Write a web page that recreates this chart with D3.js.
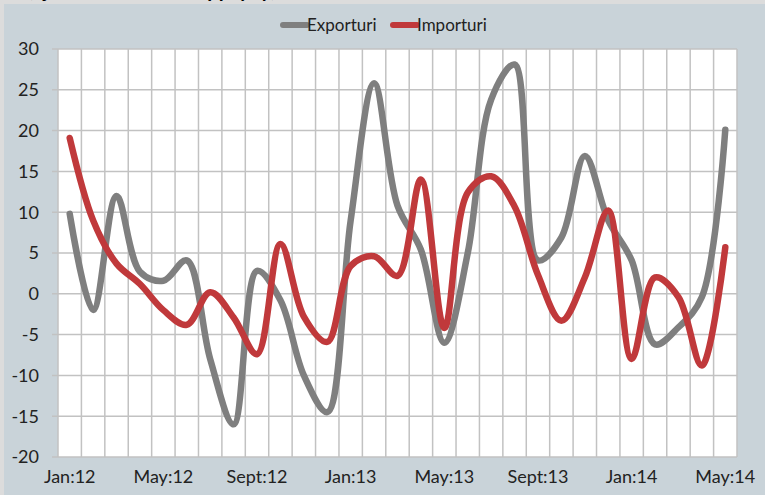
<!DOCTYPE html>
<html>
<head>
<meta charset="utf-8">
<script src="https://cdn.jsdelivr.net/npm/d3@7"></script>
<style>
  html, body { margin: 0; padding: 0; background: #dcdcdc; }
  text { font-family: Lato, "Open Sans", sans-serif; fill: #222; }
</style>
</head>
<body>
<div id="content"></div>
<script>
var width = 765, height = 495

// months Jan:12 .. May:14
var months = ['Jan:12','Feb:12','Mar:12','Apr:12','May:12','Jun:12','Jul:12','Aug:12','Sept:12','Oct:12','Nov:12','Dec:12',
  'Jan:13','Feb:13','Mar:13','Apr:13','May:13','Jun:13','Jul:13','Aug:13','Sept:13','Oct:13','Nov:13','Dec:13',
  'Jan:14','Feb:14','Mar:14','Apr:14','May:14']
var tickLabels = ['Jan:12','May:12','Sept:12','Jan:13','May:13','Sept:13','Jan:14','May:14']
var yTicks = [-20, -15, -10, -5, 0, 5, 10, 15, 20, 25, 30]

var exporturi = [9.8, -2.0, 12.0, 2.7, 1.6, 4.1, -8.0, -16.0, 2.8, -0.8,
  -10.0, -14.5, 9.0, 25.8, 10.8, 5.4, -6.0, 5.0, 23.8, 28.1,
  4.1, 6.9, 16.9, 9.0, 4.1, -6.2, -4.1, -0.4, 20.1]
var importuri = [19.1, 9.0, 3.7, 1.2, -2.0, -3.8, 0.2, -2.9, -7.4, 6.1,
  -2.8, -5.9, 3.4, 4.6, 2.2, 14.0, -4.2, 12.4, 14.4, 10.7,
  2.3, -3.3, 2.0, 10.2, -8.0, 2.0, -0.4, -8.8, 5.7]

var series = [
  {name: 'Exporturi', values: exporturi, color: '#7f7f7f'},
  {name: 'Importuri', values: importuri, color: '#c0393b'}
]

var svg = d3.select('#content')
    .append('svg')
    .attr('width', width)
    .attr('height', height)
    .style('display', 'block')

// chart background
svg.append('rect')
    .attr('x', 4).attr('y', 4)
    .attr('width', width - 4).attr('height', height - 4)
    .attr('fill', '#c9d3d9')

// title sits above the crop, only descender tips peek in
svg.append('clipPath').attr('id', 'topclip')
    .append('rect').attr('x', 0).attr('y', 0).attr('width', width).attr('height', 4)
svg.append('text')
    .attr('clip-path', 'url(#topclip)')
    .attr('x', 28).attr('y', -3)
    .style('font-weight', 'bold').style('font-size', '20px')
    .style('fill', '#000')
    .text('(ajustat sezonier, %, pp, yoy)')

var margin = {left: 58, right: 765 - 737, top: 49, bottom: 495 - 457}

var x = d3.scaleBand()
    .domain(months)
    .range([margin.left, width - margin.right])

var y = d3.scaleLinear()
    .domain([-20, 30])
    .range([height - margin.bottom, margin.top])

// plot area
svg.append('rect')
    .attr('x', margin.left).attr('y', margin.top)
    .attr('width', x.range()[1] - margin.left)
    .attr('height', y(-20) - y(30))
    .attr('fill', '#fff')

var grid = svg.append('g').attr('stroke', '#c2c2c2').attr('stroke-width', 1.5)

// vertical gridlines at category boundaries
grid.selectAll('line.v')
    .data(months.concat(['end']))
    .join('line')
    .attr('class', 'v')
    .attr('x1', (d, i) => i < months.length ? x(d) : x.range()[1])
    .attr('x2', (d, i) => i < months.length ? x(d) : x.range()[1])
    .attr('y1', y(30))
    .attr('y2', y(-20))

// horizontal gridlines + small tick stubs
grid.selectAll('line.h')
    .data(yTicks)
    .join('line')
    .attr('class', 'h')
    .attr('x1', margin.left - 6)
    .attr('x2', x.range()[1])
    .attr('y1', d => y(d))
    .attr('y2', d => y(d))

// y labels
svg.append('g').selectAll('text')
    .data(yTicks)
    .join('text')
    .attr('x', 39)
    .attr('y', d => y(d))
    .attr('dy', '0.35em')
    .attr('text-anchor', 'end')
    .style('font-size', '18px')
    .text(d => d)

// x labels
svg.append('g').selectAll('text')
    .data(tickLabels)
    .join('text')
    .attr('x', d => x(d) + x.bandwidth() / 2)
    .attr('y', 483)
    .attr('text-anchor', 'middle')
    .style('font-size', '18px')
    .text(d => d)

var line = d3.line()
    .x((d, i) => x(months[i]) + x.bandwidth() / 2)
    .y(d => y(d))
    .curve(d3.curveCatmullRom)

svg.append('g').selectAll('path')
    .data(series)
    .join('path')
    .attr('d', d => line(d.values))
    .attr('fill', 'none')
    .attr('stroke', d => d.color)
    .attr('stroke-width', 6.5)
    .attr('stroke-linejoin', 'round')
    .attr('stroke-linecap', 'round')

// legend
var legend = svg.append('g').selectAll('g')
    .data(series)
    .join('g')
    .attr('transform', (d, i) => `translate(${283 + i * 110},25)`)

legend.append('line')
    .attr('x1', 0).attr('x2', 24)
    .attr('stroke', d => d.color)
    .attr('stroke-width', 6)
    .attr('stroke-linecap', 'round')

legend.append('text')
    .attr('x', 24)
    .attr('dy', '0.35em')
    .style('font-size', '17px')
    .text(d => d.name)
</script>
</body>
</html>
